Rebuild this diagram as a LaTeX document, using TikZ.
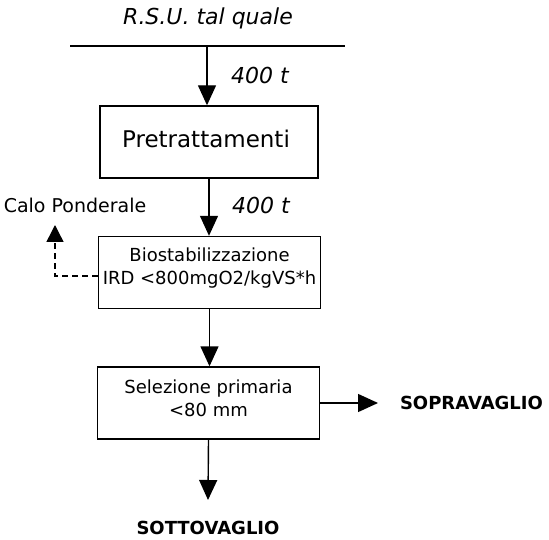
\documentclass[tikz,border=0pt]{standalone}
\usepackage{fontspec}
\setmainfont{DejaVu Sans}
\usetikzlibrary{arrows.meta}
\begin{document}
\begin{tikzpicture}[x=1pt,y=-1pt, line width=1.4pt,
  box/.style={draw, minimum width=222pt, minimum height=72pt, inner sep=0pt, align=center, font=\fontsize{18}{22}\selectfont},
  boxtext/.style={align=center, inner sep=0pt, font=\fontsize{18}{23}\selectfont},
  arr/.style={-{Triangle[width=18pt,length=20pt]}},
  lbl/.style={font=\fontsize{22}{26}\selectfont\itshape}]
\useasboundingbox (0,0) rectangle (549,540);
\node[lbl] (rsu) at (208,18) {R.S.U. tal quale};
\coordinate (tl) at (70,46);
\coordinate (tr) at (345,46);
\coordinate (t0) at (207,46);
\draw[line width=1.1pt] (tl) -- (tr);
\node[box, minimum width=218pt] (pre) at (209,142) {};
\node[boxtext, font=\fontsize{23}{27}\selectfont] (pretxt) at (206,139) {Pretrattamenti};
\node[box] (bio) at (209.5,272.5) {};
\node[boxtext] (biotxt) at (209.5,268.5) {Biostabilizzazione\\IRD <800mgO2/kgVS*h};
\node[box] (sel) at (208.5,403) {};
\node[boxtext] (seltxt) at (208.5,398.5) {Selezione primaria\\<80 mm};
\node[lbl] (q1) at (260,75) {400 t};
\node[lbl] (q2) at (261,205) {400 t};
\node[font=\fontsize{19}{23}\selectfont] (calo) at (75,205) {Calo Ponderale};
\node[font=\fontsize{18}{22}\selectfont\bfseries, anchor=west] (sopra) at (396,403) {SOPRAVAGLIO};
\node[font=\fontsize{18}{22}\selectfont\bfseries] (sotto) at (208,528) {SOTTOVAGLIO};
\coordinate (cp) at (55,225);
\coordinate (sr) at (378,403);
\coordinate (sb) at (208,500);
\draw[arr] (t0) -- (t0 |- pre.north);
\draw[arr] (pre.south) -- (pre.south |- bio.north);
\draw[arr] (bio.south) -- (bio.south |- sel.north);
\draw[dash pattern=on 6pt off 4pt, -{Triangle[width=17pt,length=17pt]}] ([yshift=-3.5pt]bio.west) -| (cp);
\draw[arr] (sel.east) -- (sr);
\draw[arr] (sel.south) -- (sb);
\end{tikzpicture}
\end{document}
